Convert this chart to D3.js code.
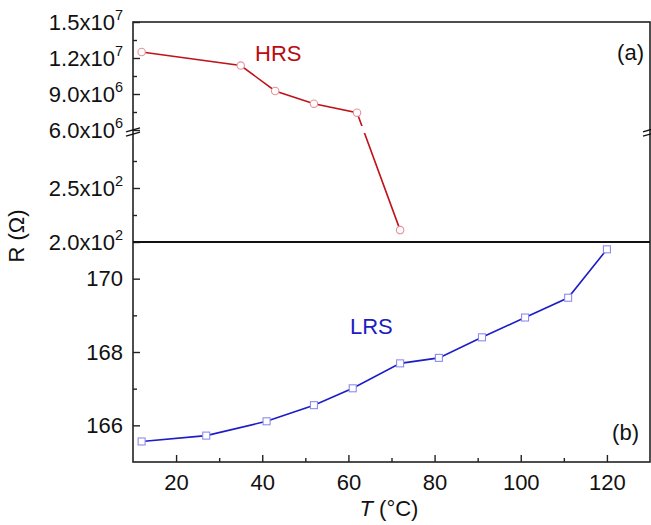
<!DOCTYPE html>
<html>
<head>
<meta charset="utf-8">
<script src="https://cdn.jsdelivr.net/npm/d3@7"></script>
<style>
  body { margin: 0; background: #fff; }
  text { font-family: "Liberation Sans", Arial, sans-serif; }
</style>
</head>
<body>
<svg id="chart" width="651" height="525"></svg>
<script>
// High-resistance state (upper panel, broken axis)
const temperatureHRS = [12, 35, 43, 52, 62, 72];
const resistanceHRS = [1.25e7, 1.137e7, 9.25e6, 8.19e6, 7.44e6, 211];

// Low-resistance state (lower panel)
const temperatureLRS = [12, 27, 41, 52, 61, 72, 81, 91, 101, 111, 120];
const resistanceLRS = [165.56, 165.72, 166.11, 166.55, 167.01, 167.69, 167.84, 168.40, 168.94, 169.48, 170.80];

// Tick values
const xTicks = [20, 40, 60, 80, 100, 120];
const xMinorTicks = [30, 50, 70, 90, 110];
const upperTicks = [1.5e7, 1.2e7, 9.0e6, 6.0e6];
const upperMinorTicks = [1.35e7, 1.05e7, 7.5e6];
const lowerTicks = [250, 200];
const lowerMinorTicks = [275, 225];
const lrsTicks = [166, 168, 170];
const lrsMinorTicks = [167, 169];

const svg = d3.select("#chart");
const plotLeft = 133, plotRight = 650, plotTop = 22, plotMid = 242, plotBottom = 462;
const frameColor = "#222";

const x = d3.scaleLinear().domain([10, 130]).range([plotLeft, plotRight]);
const yUpper = d3.scaleLinear().domain([6e6, 1.5e7]).range([130, plotTop]);
const yLower = d3.scaleLinear().domain([200, 300]).range([plotMid, 134]);
const yHRS = v => (v >= 1e6 ? yUpper(v) : yLower(v));
const yLRS = d3.scaleLinear().domain([165, 171]).range([plotBottom, plotMid]);

// Scientific tick label: mantissa "x10" plus raised exponent
function sciLabel(sel) {
  sel.each(function (d) {
    const exp = Math.floor(Math.log10(d));
    const man = (d / Math.pow(10, exp)).toFixed(1);
    const t = d3.select(this).text(null);
    t.append("tspan").text(man + "x10");
    t.append("tspan").attr("dy", -10).attr("font-size", 14.5).text(exp);
  });
}

function drawAxis(axis, minorAxis, sci) {
  const g = svg.append("g").attr("transform", `translate(${plotLeft},0)`).call(axis);
  g.select(".domain").remove();
  g.selectAll(".tick line").attr("stroke", frameColor).attr("stroke-width", 1.4);
  g.selectAll(".tick text").attr("font-size", 22).attr("fill", "#111");
  if (sci) g.selectAll(".tick text").call(sciLabel);
  const gm = svg.append("g").attr("transform", `translate(${plotLeft},0)`).call(minorAxis);
  gm.select(".domain").remove();
  gm.selectAll(".tick line").attr("stroke", frameColor).attr("stroke-width", 1.4);
}

// Left axes (ticks point inward)
drawAxis(
  d3.axisLeft(yUpper).tickValues(upperTicks).tickSizeInner(-7).tickSizeOuter(0).tickPadding(10),
  d3.axisLeft(yUpper).tickValues(upperMinorTicks).tickSizeInner(-4).tickSizeOuter(0).tickFormat(""),
  true
);
drawAxis(
  d3.axisLeft(yLower).tickValues(lowerTicks).tickSizeInner(-7).tickSizeOuter(0).tickPadding(10),
  d3.axisLeft(yLower).tickValues(lowerMinorTicks).tickSizeInner(-4).tickSizeOuter(0).tickFormat(""),
  true
);
drawAxis(
  d3.axisLeft(yLRS).tickValues(lrsTicks).tickSizeInner(-7).tickSizeOuter(0).tickPadding(10).tickFormat(d3.format("d")),
  d3.axisLeft(yLRS).tickValues(lrsMinorTicks).tickSizeInner(-4).tickSizeOuter(0).tickFormat(""),
  false
);

// Bottom axis
const gx = svg.append("g").attr("transform", `translate(0,${plotBottom})`)
  .call(d3.axisBottom(x).tickValues(xTicks).tickSizeInner(-7).tickSizeOuter(0).tickPadding(12));
gx.select(".domain").remove();
gx.selectAll(".tick line").attr("stroke", frameColor).attr("stroke-width", 1.4);
gx.selectAll(".tick text").attr("font-size", 22).attr("fill", "#111");
const gxm = svg.append("g").attr("transform", `translate(0,${plotBottom})`)
  .call(d3.axisBottom(x).tickValues(xMinorTicks).tickSizeInner(-4).tickSizeOuter(0).tickFormat(""));
gxm.select(".domain").remove();
gxm.selectAll(".tick line").attr("stroke", frameColor).attr("stroke-width", 1.4);

// Frame and panel divider
svg.append("rect")
  .attr("x", plotLeft).attr("y", plotTop).attr("width", plotRight - plotLeft).attr("height", plotBottom - plotTop)
  .attr("fill", "none").attr("stroke", frameColor).attr("stroke-width", 1.6);
svg.append("line")
  .attr("x1", plotLeft).attr("x2", plotRight).attr("y1", plotMid).attr("y2", plotMid)
  .attr("stroke", "#111").attr("stroke-width", 1.8);

// Axis-break marks
[plotLeft, plotRight].forEach(bx => {
  [-2.2, 2.2].forEach(off => {
    svg.append("line")
      .attr("x1", bx - 7).attr("y1", 132 + off + 2)
      .attr("x2", bx + 7).attr("y2", 132 + off - 2)
      .attr("stroke", "#111").attr("stroke-width", 1.3);
  });
});

// HRS trace, interrupted across the break
const clip = svg.append("defs").append("clipPath").attr("id", "break-gap");
clip.append("rect").attr("x", plotLeft).attr("y", plotTop).attr("width", plotRight - plotLeft).attr("height", 126 - plotTop);
clip.append("rect").attr("x", plotLeft).attr("y", 133).attr("width", plotRight - plotLeft).attr("height", plotMid - 133);

const hrs = temperatureHRS.map((t, i) => [t, resistanceHRS[i]]);
svg.append("path")
  .datum(hrs)
  .attr("clip-path", "url(#break-gap)")
  .attr("fill", "none").attr("stroke", "#c0121a").attr("stroke-width", 1.6)
  .attr("d", d3.line().x(d => x(d[0])).y(d => yHRS(d[1])));
svg.selectAll(".hrs-pt").data(hrs).join("circle")
  .attr("class", "hrs-pt")
  .attr("cx", d => x(d[0])).attr("cy", d => yHRS(d[1])).attr("r", 3.7)
  .attr("fill", "#fff").attr("stroke", "#e8909a").attr("stroke-width", 1.1);

// LRS trace
const lrs = temperatureLRS.map((t, i) => [t, resistanceLRS[i]]);
svg.append("path")
  .datum(lrs)
  .attr("fill", "none").attr("stroke", "#1c1cc8").attr("stroke-width", 1.6)
  .attr("d", d3.line().x(d => x(d[0])).y(d => yLRS(d[1])));
svg.selectAll(".lrs-pt").data(lrs).join("rect")
  .attr("class", "lrs-pt")
  .attr("x", d => x(d[0]) - 3.5).attr("y", d => yLRS(d[1]) - 3.5)
  .attr("width", 7).attr("height", 7)
  .attr("fill", "#fff").attr("stroke", "#8c8cf0").attr("stroke-width", 1.1);

// In-plot labels
svg.append("text").attr("x", 255).attr("y", 61).attr("font-size", 22).attr("fill", "#b80c12").text("HRS");
svg.append("text").attr("x", 350).attr("y", 334).attr("font-size", 22).attr("fill", "#1c1cc0").text("LRS");
svg.append("text").attr("x", 644).attr("y", 60).attr("text-anchor", "end").attr("font-size", 22).attr("fill", "#111").text("(a)");
svg.append("text").attr("x", 639).attr("y", 440).attr("text-anchor", "end").attr("font-size", 22).attr("fill", "#111").text("(b)");

// Axis titles
svg.append("text")
  .attr("transform", "translate(24,236) rotate(-90)")
  .attr("text-anchor", "middle").attr("font-size", 22).attr("fill", "#111")
  .text("R (Ω)");
const xt = svg.append("text")
  .attr("x", 389).attr("y", 516).attr("text-anchor", "middle").attr("font-size", 22).attr("fill", "#111");
xt.append("tspan").attr("font-style", "italic").text("T");
xt.append("tspan").text(" (°C)");
</script>
</body>
</html>
